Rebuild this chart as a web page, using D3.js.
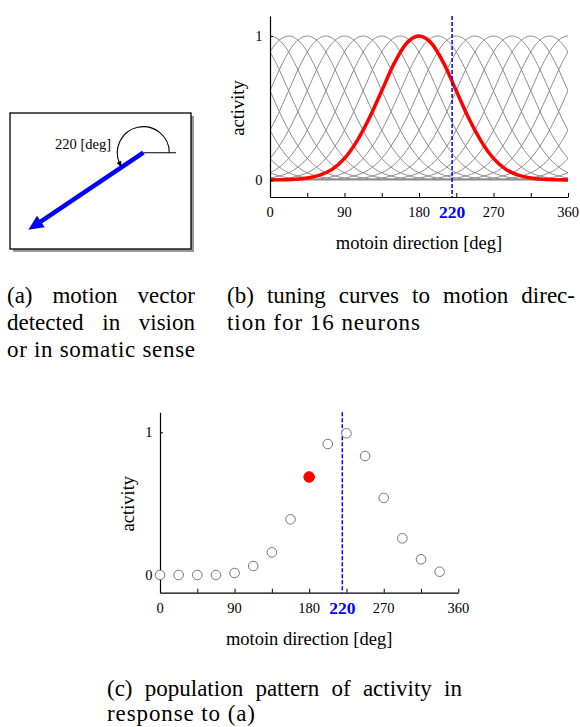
<!DOCTYPE html>
<html>
<head>
<meta charset="utf-8">
<script src="https://cdn.jsdelivr.net/npm/d3@7"></script>
<style>
  body { margin: 0; background: #fff; }
  .tick line { stroke: #000; }
  .domain { stroke: #000; stroke-width: 1.2; }
</style>
</head>
<body>
<script>
// Figure: (a) a motion vector, (b) 16 direction-tuned neurons, (c) their population response

// preferred directions of the 16 neurons [deg]
var preferred = [0, 22.5, 45, 67.5, 90, 112.5, 135, 157.5, 180, 202.5, 225, 247.5, 270, 292.5, 315, 337.5];
// one tuning curve: activity vs distance from preferred direction
var profileOffset = [0, 15, 30, 45, 60, 75, 90, 105, 120, 135, 150, 165, 180];
var profileActivity = [1, 0.95, 0.81, 0.62, 0.43, 0.27, 0.15, 0.074, 0.034, 0.014, 0.005, 0.002, 0];
// response of each neuron to the 220 deg stimulus (panel c)
var population = [0, 0, 0, 0, 0.014, 0.063, 0.159, 0.39, 0.687, 0.918, 0.993, 0.834, 0.54, 0.257, 0.11, 0.023];
var highlighted = 180;
var stimulus = 220;
var xLabels = [0, 90, 180, 270, 360];
var xTicks = [0, 45, 90, 135, 180, 225, 270, 315, 360];
var yLabels = [0, 1];

var captionA = ["(a) motion vector", "detected in vision", "or in somatic sense"];
var captionB = ["(b) tuning curves to motion direc-", "tion for 16 neurons"];
var captionC = ["(c) population pattern of activity in", "response to (a)"];

var FONT = "'Liberation Serif', 'Times New Roman', Times, serif";

var svg = d3.select("body").append("svg")
  .attr("width", 580)
  .attr("height", 727)
  .attr("font-family", FONT);

svg.append("rect").attr("width", 580).attr("height", 727).attr("fill", "#fff");

//---------- panel (a): the vector ----------
svg.append("rect")
  .attr("x", 13).attr("y", 116).attr("width", 181).attr("height", 136)
  .attr("fill", "#999");
svg.append("rect")
  .attr("x", 10).attr("y", 113).attr("width", 181).attr("height", 136)
  .attr("fill", "#fff").attr("stroke", "#000").attr("stroke-width", 1.3);

var ox = 143.3, oy = 152.7;
// vector units -> pixels (the box is drawn a bit flatter than wide)
var vx = d3.scaleLinear().domain([0, 1]).range([0, 150]);
var vy = d3.scaleLinear().domain([0, 1]).range([0, -120]);
var rad = stimulus * Math.PI / 180;
var tipX = ox + vx(Math.cos(rad)), tipY = oy + vy(Math.sin(rad));
var len = Math.hypot(tipX - ox, tipY - oy);
var ux = (tipX - ox) / len, uy = (tipY - oy) / len;
var headL = 15, headW = 7;
var baseX = tipX - ux * headL, baseY = tipY - uy * headL;

svg.append("line")
  .attr("x1", ox).attr("y1", oy).attr("x2", baseX + ux * 2).attr("y2", baseY + uy * 2)
  .attr("stroke", "#0000ff").attr("stroke-width", 4.5);
svg.append("path")
  .attr("d", "M" + tipX + "," + tipY +
    "L" + (baseX - uy * headW) + "," + (baseY + ux * headW) +
    "L" + (baseX + uy * headW) + "," + (baseY - ux * headW) + "Z")
  .attr("fill", "#0000ff");

// reference line and angle arc
svg.append("line")
  .attr("x1", ox).attr("y1", oy).attr("x2", 176).attr("y2", oy)
  .attr("stroke", "#000").attr("stroke-width", 1.1);
var arcR = 26, endA = 205 * Math.PI / 180;
var ax = ox + arcR * Math.cos(endA), ay = oy - arcR * Math.sin(endA);
svg.append("path")
  .attr("d", "M" + (ox + arcR) + "," + oy + "A" + arcR + "," + arcR + " 0 1 0 " + ax + "," + ay)
  .attr("fill", "none").attr("stroke", "#000").attr("stroke-width", 1.1);
// small arrow head at the arc end, along the tangent
var tx = -Math.sin(endA), ty = -Math.cos(endA);
svg.append("path")
  .attr("d", "M" + (ax + tx * 4) + "," + (ay + ty * 4) +
    "L" + (ax - tx * 2 - ty * 2.5) + "," + (ay - ty * 2 + tx * 2.5) +
    "L" + (ax - tx * 2 + ty * 2.5) + "," + (ay - ty * 2 - tx * 2.5) + "Z")
  .attr("fill", "#000");

svg.append("text")
  .attr("x", 111).attr("y", 148.5)
  .attr("text-anchor", "end")
  .style("font-size", "14.5px")
  .text(stimulus + " [deg]");

//---------- shared axis helper ----------
function frame(g, x, y, bottom) {
  g.append("g")
    .attr("transform", "translate(0," + bottom + ")")
    .call(d3.axisBottom(x).tickValues(xTicks).tickSizeInner(-4).tickSizeOuter(0).tickFormat(""));
  g.append("g")
    .attr("transform", "translate(" + x(0) + ",0)")
    .call(d3.axisRight(y).tickValues(yLabels).tickSizeInner(3).tickSizeOuter(0).tickFormat(""));

  g.selectAll(".xl").data(xLabels).enter().append("text")
    .attr("x", function(d) { return x(d); })
    .attr("y", bottom + 20)
    .attr("text-anchor", "middle")
    .style("font-size", "14.5px")
    .text(function(d) { return d; });
  g.selectAll(".yl").data(yLabels).enter().append("text")
    .attr("x", x(0) - 7.5)
    .attr("y", function(d) { return y(d) + 5; })
    .attr("text-anchor", "end")
    .style("font-size", "14.5px")
    .text(function(d) { return d; });

  // stimulus marker
  g.append("line")
    .attr("x1", x(stimulus)).attr("x2", x(stimulus))
    .attr("y1", y.range()[1]).attr("y2", bottom)
    .attr("stroke", "#0000ff").attr("stroke-width", 1.5)
    .attr("stroke-dasharray", "4,2");
  g.append("text")
    .attr("x", x(stimulus))
    .attr("y", bottom + 21)
    .attr("text-anchor", "middle")
    .style("font-size", "17.5px").style("font-weight", "bold").style("fill", "#0000ff")
    .text(stimulus);

  g.append("text")
    .attr("x", (x(0) + x(360)) / 2)
    .attr("y", bottom + 52)
    .attr("text-anchor", "middle")
    .style("font-size", "18.5px")
    .text("motoin direction [deg]");
  g.append("text")
    .attr("transform", "translate(" + (x(0) - 26) + "," + ((y(0) + y(1)) / 2) + ") rotate(-90)")
    .attr("text-anchor", "middle")
    .style("font-size", "18.5px")
    .text("activity");
}

//---------- panel (b): tuning curves ----------
var xb = d3.scaleLinear().domain([0, 360]).range([270, 568]);
var yb = d3.scaleLinear().domain([-0.118, 1.139]).range([197, 16]);
var gb = svg.append("g");

gb.append("clipPath").attr("id", "clipb")
  .append("rect")
  .attr("x", xb(0)).attr("y", yb(1.139))
  .attr("width", xb(360) - xb(0)).attr("height", yb(-0.118) - yb(1.139));

// full curve, offset -180..180
var shape = [];
profileOffset.slice().reverse().forEach(function(o, i) {
  if (o > 0) shape.push({ o: -o, a: profileActivity[profileOffset.length - 1 - i] });
});
profileOffset.forEach(function(o, i) { shape.push({ o: o, a: profileActivity[i] }); });

var curves = [];
preferred.forEach(function(p) {
  [-360, 0, 360].forEach(function(s) { curves.push({ p: p, s: s }); });
});

var tuneLine = function(c) {
  return d3.line()
    .x(function(d) { return xb(c.p + c.s + d.o); })
    .y(function(d) { return yb(d.a); })
    .curve(d3.curveMonotoneX)(shape);
};

var plotB = gb.append("g").attr("clip-path", "url(#clipb)");
plotB.selectAll(".tune").data(curves.filter(function(c) { return c.p !== highlighted; }))
  .enter().append("path")
  .attr("class", "tune")
  .attr("d", tuneLine)
  .attr("fill", "none").attr("stroke", "#8c8c8c").attr("stroke-width", 1);
plotB.selectAll(".hl").data(curves.filter(function(c) { return c.p === highlighted; }))
  .enter().append("path")
  .attr("class", "hl")
  .attr("d", tuneLine)
  .attr("fill", "none").attr("stroke", "#ff0000").attr("stroke-width", 3.5);

frame(gb, xb, yb, 197);

//---------- panel (c): population response ----------
var xc = d3.scaleLinear().domain([0, 360]).range([160, 458.3]);
var yc = d3.scaleLinear().domain([-0.124, 1.14]).range([592.7, 412.3]);
var gc = svg.append("g");
frame(gc, xc, yc, 592.7);

gc.selectAll(".pt").data(preferred)
  .enter().append("circle")
  .attr("cx", function(d) { return xc(d); })
  .attr("cy", function(d, i) { return yc(population[i]); })
  .attr("r", function(d) { return d === highlighted ? 5.3 : 4.8; })
  .attr("fill", function(d) { return d === highlighted ? "#ff0000" : "#fff"; })
  .attr("stroke", function(d) { return d === highlighted ? "#ff0000" : "#777"; })
  .attr("stroke-width", 1);

//---------- captions ----------
function caption(lines, x0, width, widths, y0, lead) {
  lines.forEach(function(line, i) {
    var t = svg.append("text")
      .attr("y", y0 + i * lead)
      .style("font-family", FONT)
      .style("font-size", "23px");
    if (widths[i] === null) {
      // justified line: spread the words across the column
      var words = line.split(" ");
      var spans = words.map(function(w) { return t.append("tspan").text(w); });
      var ws = spans.map(function(s) { return s.node().getComputedTextLength(); });
      var gap = (width - d3.sum(ws)) / (words.length - 1);
      var x = x0;
      spans.forEach(function(s, j) { s.attr("x", x); x += ws[j] + gap; });
    } else {
      t.attr("x", x0).text(line)
        .attr("textLength", widths[i]).attr("lengthAdjust", "spacing");
    }
  });
}

svg.selectAll("text").style("font-family", FONT);

caption(captionA, 7, 188, [null, null, 188], 302.5, 27);
caption(captionB, 227, 348, [null, 193], 303, 27);
caption(captionC, 107, 355, [null, 148], 695.5, 25.8);
</script>
</body>
</html>
